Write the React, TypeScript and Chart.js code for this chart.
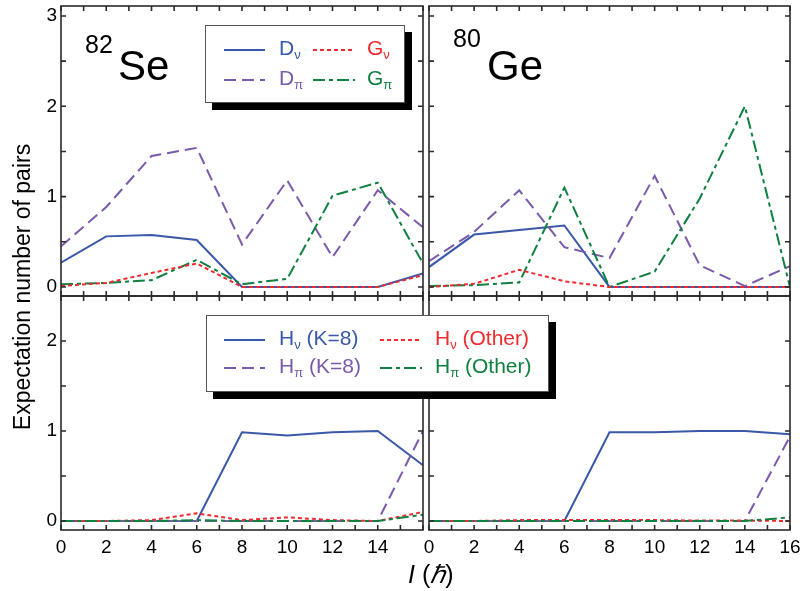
import React, { useEffect, useRef } from 'react';
import { Chart, registerables } from 'chart.js';

Chart.register(...registerables);

// ---------- data ----------
const I_VALUES = [0, 2, 4, 6, 8, 10, 12, 14, 16];
const X_TICKS = [0, 1, 2, 3, 4, 5, 6, 7, 8, 9, 10, 11, 12, 13, 14, 15, 16];
const TOP_Y_TICKS = [0, 0.5, 1, 1.5, 2, 2.5, 3];
const BOTTOM_Y_TICKS = [0, 0.5, 1, 1.5, 2];

// 82Se, top panel
const SE_D_NU = [0.27, 0.56, 0.575, 0.52, 0, 0, 0, 0, 0.15];
const SE_D_PI = [0.45, 0.885, 1.45, 1.54, 0.47, 1.18, 0.33, 1.07, 0.66];
const SE_G_NU = [0.01, 0.045, 0.155, 0.26, 0, 0, 0, 0, 0.13];
const SE_G_PI = [0.03, 0.045, 0.075, 0.3, 0.03, 0.09, 1.01, 1.155, 0.26];

// 80Ge, top panel
const GE_D_NU = [0.22, 0.58, 0.63, 0.68, 0, 0, 0, 0, 0];
const GE_D_PI = [0.285, 0.61, 1.07, 0.44, 0.32, 1.23, 0.24, 0.01, 0.23];
const GE_G_NU = [0, 0.035, 0.19, 0.063, 0, 0, 0, 0, 0];
const GE_G_PI = [0.01, 0.02, 0.05, 1.1, 0, 0.17, 0.98, 2.0, 0];

// 82Se, bottom panel
const SE_H_NU_K8 = [0, 0, 0, 0, 0.985, 0.95, 0.985, 1.0, 0.62];
const SE_H_PI_K8 = [0, 0, 0, 0, 0, 0, 0, 0, 1.0];
const SE_H_NU_OTHER = [0, 0, 0.01, 0.085, 0.01, 0.04, 0.01, 0, 0.1];
const SE_H_PI_OTHER = [0, 0, 0, 0.01, 0, 0, 0, 0, 0.07];

// 80Ge, bottom panel
const GE_H_NU_K8 = [0, 0, 0, 0, 0.985, 0.985, 1.0, 1.0, 0.965];
const GE_H_PI_K8 = [0, 0, 0, 0, 0, 0, 0, 0, 0.94];
const GE_H_NU_OTHER = [0, 0, 0.01, 0.01, 0.01, 0.01, 0.005, 0.005, 0];
const GE_H_PI_OTHER = [0, 0, 0, 0, 0, 0, 0, 0, 0.04];

// ---------- styles ----------
const W = 803;
const H = 591;
const FONT = '"Liberation Sans", Arial, Helvetica, sans-serif';
const BLUE = '#3a58a8';
const PURPLE = '#7a5aaa';
const RED = '#f02a2e';
const GREEN = '#0f8040';
const DASH = [12, 6];
const DOT = [4, 3];
const DASHDOT = [12, 4, 4, 4];

type Series = { label: string; values: number[]; color: string; dash: number[] };
type Panel = {
  L: number; T: number; R: number; B: number;
  yMax: number; yTicks: number[];
  showY: boolean; showX: boolean; hideLastX: boolean;
  series: Series[];
};

const framePlugin = {
  id: 'frame',
  afterDatasetsDraw(chart: any) {
    const { ctx, chartArea: a, scales } = chart;
    const yTicks: number[] = chart.options.plugins.frame.yTicks;
    const TL = 5;
    ctx.save();
    ctx.strokeStyle = '#2a2a2a';
    ctx.lineWidth = 1.6;
    ctx.strokeRect(a.left, a.top, a.right - a.left, a.bottom - a.top);
    ctx.beginPath();
    for (const v of X_TICKS) {
      const px = scales.x.getPixelForValue(v);
      ctx.moveTo(px, a.bottom);
      ctx.lineTo(px, a.bottom - TL);
      ctx.moveTo(px, a.top);
      ctx.lineTo(px, a.top + TL);
    }
    for (const v of yTicks) {
      const py = scales.y.getPixelForValue(v);
      ctx.moveTo(a.left, py);
      ctx.lineTo(a.left + TL, py);
      ctx.moveTo(a.right, py);
      ctx.lineTo(a.right - TL, py);
    }
    ctx.stroke();
    ctx.restore();
  },
};

function PanelChart({ panel }: { panel: Panel }) {
  const ref = useRef<HTMLCanvasElement>(null);
  useEffect(() => {
    const YW = 40;
    const XH = 40;
    const chart = new Chart(ref.current as HTMLCanvasElement, {
      type: 'line',
      data: {
        datasets: panel.series.map((s) => ({
          label: s.label,
          data: I_VALUES.map((x, i) => ({ x, y: s.values[i] })),
          borderColor: s.color,
          borderDash: s.dash,
          borderWidth: 2,
          pointRadius: 0,
          fill: false,
          tension: 0,
        })),
      },
      options: {
        responsive: false,
        animation: false,
        devicePixelRatio: 1,
        layout: {
          padding: {
            left: panel.L - YW,
            top: panel.T,
            right: W - panel.R,
            bottom: H - panel.B - XH,
          },
        },
        plugins: {
          legend: { display: false },
          tooltip: { enabled: false },
          frame: { yTicks: panel.yTicks },
        } as any,
        scales: {
          x: {
            type: 'linear',
            min: 0,
            max: 16,
            grid: { display: false, drawTicks: false },
            border: { display: false },
            ticks: {
              display: panel.showX,
              autoSkip: false,
              maxRotation: 0,
              padding: 6,
              color: '#000',
              font: { family: FONT, size: 19 },
              callback: (v: any) =>
                v % 2 === 0 && !(panel.hideLastX && v === 16) ? String(v) : '',
            },
            afterBuildTicks: (s: any) => {
              s.ticks = X_TICKS.map((v) => ({ value: v }));
            },
            afterFit: (s: any) => {
              s.height = XH;
              s.paddingLeft = 0;
              s.paddingRight = 0;
            },
          },
          y: {
            type: 'linear',
            min: -0.1,
            max: panel.yMax,
            grid: { display: false, drawTicks: false },
            border: { display: false },
            ticks: {
              display: panel.showY,
              autoSkip: false,
              padding: 4,
              color: '#000',
              font: { family: FONT, size: 19 },
              callback: (v: any) => (Number.isInteger(v) ? String(v) : ''),
            },
            afterBuildTicks: (s: any) => {
              s.ticks = panel.yTicks.map((v) => ({ value: v }));
            },
            afterFit: (s: any) => {
              s.width = YW;
              s.paddingTop = 0;
              s.paddingBottom = 0;
            },
          },
        },
      },
      plugins: [framePlugin],
    } as any);
    return () => chart.destroy();
  }, [panel]);
  return (
    <canvas
      ref={ref}
      width={W}
      height={H}
      style={{ position: 'absolute', left: 0, top: 0, width: W, height: H }}
    />
  );
}

const PANELS: Panel[] = [
  {
    L: 61, T: 6, R: 423, B: 296, yMax: 3.11, yTicks: TOP_Y_TICKS,
    showY: true, showX: false, hideLastX: true,
    series: [
      { label: 'Gν', values: SE_G_NU, color: RED, dash: DOT },
      { label: 'Gπ', values: SE_G_PI, color: GREEN, dash: DASHDOT },
      { label: 'Dπ', values: SE_D_PI, color: PURPLE, dash: DASH },
      { label: 'Dν', values: SE_D_NU, color: BLUE, dash: [] },
    ],
  },
  {
    L: 429, T: 6, R: 790, B: 296, yMax: 3.11, yTicks: TOP_Y_TICKS,
    showY: false, showX: false, hideLastX: false,
    series: [
      { label: 'Gν', values: GE_G_NU, color: RED, dash: DOT },
      { label: 'Gπ', values: GE_G_PI, color: GREEN, dash: DASHDOT },
      { label: 'Dπ', values: GE_D_PI, color: PURPLE, dash: DASH },
      { label: 'Dν', values: GE_D_NU, color: BLUE, dash: [] },
    ],
  },
  {
    L: 61, T: 296, R: 423, B: 530, yMax: 2.5, yTicks: BOTTOM_Y_TICKS,
    showY: true, showX: true, hideLastX: true,
    series: [
      { label: 'Hπ (Other)', values: SE_H_PI_OTHER, color: GREEN, dash: DASHDOT },
      { label: 'Hν (Other)', values: SE_H_NU_OTHER, color: RED, dash: DOT },
      { label: 'Hπ (K=8)', values: SE_H_PI_K8, color: PURPLE, dash: DASH },
      { label: 'Hν (K=8)', values: SE_H_NU_K8, color: BLUE, dash: [] },
    ],
  },
  {
    L: 429, T: 296, R: 790, B: 530, yMax: 2.5, yTicks: BOTTOM_Y_TICKS,
    showY: false, showX: true, hideLastX: false,
    series: [
      { label: 'Hπ (Other)', values: GE_H_PI_OTHER, color: GREEN, dash: DASHDOT },
      { label: 'Hν (Other)', values: GE_H_NU_OTHER, color: RED, dash: DOT },
      { label: 'Hπ (K=8)', values: GE_H_PI_K8, color: PURPLE, dash: DASH },
      { label: 'Hν (K=8)', values: GE_H_NU_K8, color: BLUE, dash: [] },
    ],
  },
];

// ---------- legend helpers ----------
const LEG_SIZE = 21;

function LegendText({ x, baseline, color, main, sub, rest }: any) {
  return (
    <div
      style={{
        position: 'absolute',
        left: x,
        top: baseline - 0.8465 * LEG_SIZE,
        fontSize: LEG_SIZE,
        lineHeight: `${LEG_SIZE}px`,
        color,
        whiteSpace: 'nowrap',
        fontFamily: FONT,
      }}
    >
      {main}
      <span style={{ fontSize: 13, position: 'relative', top: 4, lineHeight: '13px' }}>{sub}</span>
      {rest ? <span>{rest}</span> : null}
    </div>
  );
}

function LegendBox({ x, y, w, h }: any) {
  return (
    <div
      style={{
        position: 'absolute',
        left: x,
        top: y,
        width: w,
        height: h,
        boxSizing: 'border-box',
        background: '#fff',
        border: '1.5px solid #555',
        boxShadow: '7px 7px 0 #000',
      }}
    />
  );
}

export default function App() {
  const samples = [
    // top legend
    { x1: 224, x2: 265, y: 50, color: BLUE, dash: [] },
    { x1: 313, x2: 355, y: 50, color: RED, dash: DOT },
    { x1: 224, x2: 265, y: 80, color: PURPLE, dash: DASH },
    { x1: 313, x2: 355, y: 80, color: GREEN, dash: DASHDOT },
    // bottom legend
    { x1: 224, x2: 265, y: 340, color: BLUE, dash: [] },
    { x1: 380, x2: 422, y: 340, color: RED, dash: DOT },
    { x1: 224, x2: 265, y: 368, color: PURPLE, dash: DASH },
    { x1: 380, x2: 422, y: 368, color: GREEN, dash: DASHDOT },
  ];
  return (
    <div
      style={{
        position: 'absolute',
        left: 0,
        top: 0,
        width: W,
        height: H,
        background: '#fff',
        overflow: 'hidden',
        fontFamily: FONT,
      }}
    >
      {PANELS.map((p, i) => (
        <PanelChart key={i} panel={p} />
      ))}

      {/* nucleus labels */}
      <div style={{ position: 'absolute', left: 85, top: 31.7, fontSize: 25, lineHeight: '25px', color: '#000' }}>82</div>
      <div style={{ position: 'absolute', left: 118, top: 44.5, fontSize: 42, lineHeight: '42px', color: '#000' }}>Se</div>
      <div style={{ position: 'absolute', left: 453, top: 26, fontSize: 25, lineHeight: '25px', color: '#000' }}>80</div>
      <div style={{ position: 'absolute', left: 487, top: 44.5, fontSize: 42, lineHeight: '42px', color: '#000' }}>Ge</div>

      {/* legend boxes */}
      <LegendBox x={205} y={25} w={200} h={78} />
      <LegendBox x={206} y={315} w={343} h={77} />

      <svg width={W} height={H} style={{ position: 'absolute', left: 0, top: 0 }}>
        {samples.map((s, i) => (
          <line
            key={i}
            x1={s.x1}
            x2={s.x2}
            y1={s.y}
            y2={s.y}
            stroke={s.color}
            strokeWidth={2}
            strokeDasharray={s.dash.length ? s.dash.join(' ') : undefined}
          />
        ))}
      </svg>

      <LegendText x={279} baseline={55} color={BLUE} main="D" sub="ν" />
      <LegendText x={367} baseline={55} color={RED} main="G" sub="ν" />
      <LegendText x={279} baseline={85} color={PURPLE} main="D" sub="π" />
      <LegendText x={367} baseline={85} color={GREEN} main="G" sub="π" />

      <LegendText x={279} baseline={345} color={BLUE} main="H" sub="ν" rest=" (K=8)" />
      <LegendText x={435} baseline={345} color={RED} main="H" sub="ν" rest=" (Other)" />
      <LegendText x={279} baseline={373} color={PURPLE} main="H" sub="π" rest=" (K=8)" />
      <LegendText x={435} baseline={373} color={GREEN} main="H" sub="π" rest=" (Other)" />

      {/* axis titles */}
      <div
        style={{
          position: 'absolute',
          left: 22,
          top: 287,
          transform: 'translate(-50%, -50%) rotate(-90deg)',
          fontSize: 23,
          lineHeight: '23px',
          whiteSpace: 'nowrap',
          color: '#000',
        }}
      >
        Expectation number of pairs
      </div>
      <div
        style={{
          position: 'absolute',
          left: 408,
          top: 562,
          fontSize: 25,
          lineHeight: '25px',
          whiteSpace: 'nowrap',
          color: '#000',
        }}
      >
        <i>I</i> (<i>ℏ</i>)
      </div>
    </div>
  );
}
